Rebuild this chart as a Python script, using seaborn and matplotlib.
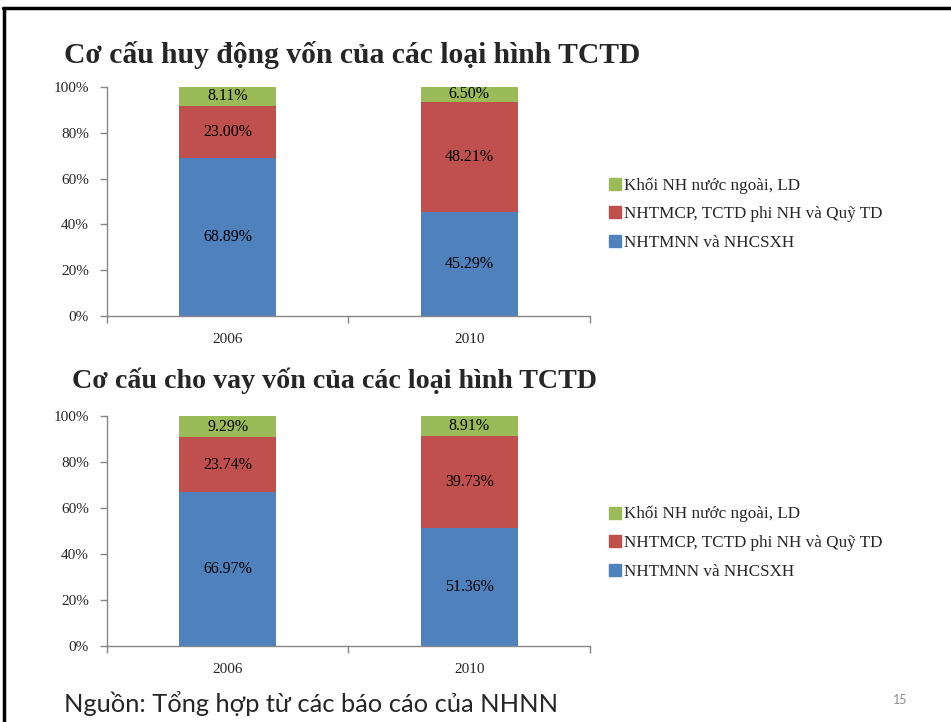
import matplotlib
matplotlib.use("Agg")
import matplotlib.pyplot as plt
import seaborn as sns
import pandas as pd
import numpy as np
from matplotlib.lines import Line2D

years = ["2006", "2010"]
series_names = ["NHTMNN và NHCSXH", "NHTMCP, TCTD phi NH và Quỹ TD", "Khối NH nước ngoài, LD"]
mobilize_state = [68.89, 45.29]
mobilize_jsc = [23.00, 48.21]
mobilize_foreign = [8.11, 6.50]
lending_state = [66.97, 51.36]
lending_jsc = [23.74, 39.73]
lending_foreign = [9.29, 8.91]
title_top = "Cơ cấu huy động vốn của các loại hình TCTD"
title_bottom = "Cơ cấu cho vay vốn của các loại hình TCTD"
source_text = "Nguồn: Tổng hợp từ các báo cáo của NHNN"
page_no = "15"
yticks = [0, 20, 40, 60, 80, 100]
ytick_labels = ["0%", "20%", "40%", "60%", "80%", "100%"]

colors = ["#4F81BD", "#C0504D", "#9BBB59"]
GRAY = "#868686"
SERIF = ["Liberation Serif", "DejaVu Serif"]

sns.set_theme(style="white")
plt.rcParams["font.family"] = SERIF

W, H = 951, 722
fig = plt.figure(figsize=(W / 100, H / 100), dpi=100)


def axes_px(x0, x1, y_top, y_bot):
    return fig.add_axes([x0 / W, (H - y_bot) / H, (x1 - x0) / W, (y_bot - y_top) / H])


def draw_chart(ax, s1, s2, s3):
    df = pd.DataFrame({"year": years, "s1": s1, "s2": s2, "s3": s3})
    df["c1"] = df["s1"]
    df["c2"] = df["s1"] + df["s2"]
    df["c3"] = df["c2"] + df["s3"]
    # layered cumulative bars (top first)
    for col, c in zip(["c3", "c2", "c1"], colors[::-1]):
        sns.barplot(data=df, x="year", y=col, color=c, width=0.4, ax=ax,
                    saturation=1, edgecolor="none", linewidth=0, errorbar=None)
    # labels
    for i, row in df.iterrows():
        for val, lo in zip([row["s1"], row["s2"], row["s3"]], [0, row["c1"], row["c2"]]):
            ax.text(i, lo + val / 2, f"{val:.2f}%", ha="center", va="center",
                    fontsize=11.5, color="black", family=SERIF)
    ax.set_xlim(-0.5, 1.5)
    ax.set_ylim(0, 100)
    ax.set_yticks(yticks)
    ax.set_yticklabels(ytick_labels, fontsize=11, family=SERIF)
    ax.set_xticks([0, 1])
    ax.set_xticklabels(years, fontsize=11, family=SERIF)
    ax.set_xticks([-0.5, 0.5, 1.5], minor=True)
    ax.tick_params(axis="x", which="major", length=0, pad=12)
    ax.tick_params(axis="x", which="minor", length=5, color=GRAY, width=1, direction="out", bottom=True)
    ax.tick_params(axis="y", length=5, color=GRAY, width=1, direction="out", pad=8, left=True)
    ax.set_xlabel("")
    ax.set_ylabel("")
    for s in ["top", "right"]:
        ax.spines[s].set_visible(False)
    for s in ["left", "bottom"]:
        ax.spines[s].set_color(GRAY)
        ax.spines[s].set_linewidth(1)
    ax.grid(False)


ax1 = axes_px(107, 590, 87, 316)
draw_chart(ax1, mobilize_state, mobilize_jsc, mobilize_foreign)
ax2 = axes_px(107, 590, 416, 646)
draw_chart(ax2, lending_state, lending_jsc, lending_foreign)

# legends
for ax, ytop in [(ax1, 177), (ax2, 506)]:
    handles = [Line2D([0], [0], marker="s", linestyle="none", markersize=8,
                      markerfacecolor=c, markeredgecolor=c) for c in colors[::-1]]
    fig.legend(handles, series_names[::-1], loc="upper left",
               bbox_to_anchor=(609 / W, (H - ytop) / H), frameon=False,
               prop={"family": SERIF, "size": 12.3}, handlelength=0.75,
               handletextpad=0.15, labelspacing=0.75, borderpad=0, borderaxespad=0)

# titles
fig.text(64 / W, (H - 55) / H, title_top, fontsize=21.3, fontweight="bold",
         family=SERIF, va="center", ha="left")
fig.text(72 / W, (H - 381) / H, title_bottom, fontsize=20.2, fontweight="bold",
         family=SERIF, va="center", ha="left")

# source and page number
fig.text(64 / W, (H - 712) / H, source_text, fontsize=18.3, family=["Lato", "DejaVu Sans"],
         va="baseline", ha="left")
fig.text(893 / W, (H - 704) / H, page_no, fontsize=9, color="#8C8C8C",
         family=["Lato", "DejaVu Sans"], va="baseline", ha="left")

# slide border (top and left)
fig.add_artist(Line2D([4 / W, 4 / W], [0, 1 - 8 / H], color="black", linewidth=2.5,
                      transform=fig.transFigure))
fig.add_artist(Line2D([3 / W, 1], [1 - 8 / H, 1 - 8 / H], color="black", linewidth=2.5,
                      transform=fig.transFigure))

fig.savefig("out.png", dpi=100)
